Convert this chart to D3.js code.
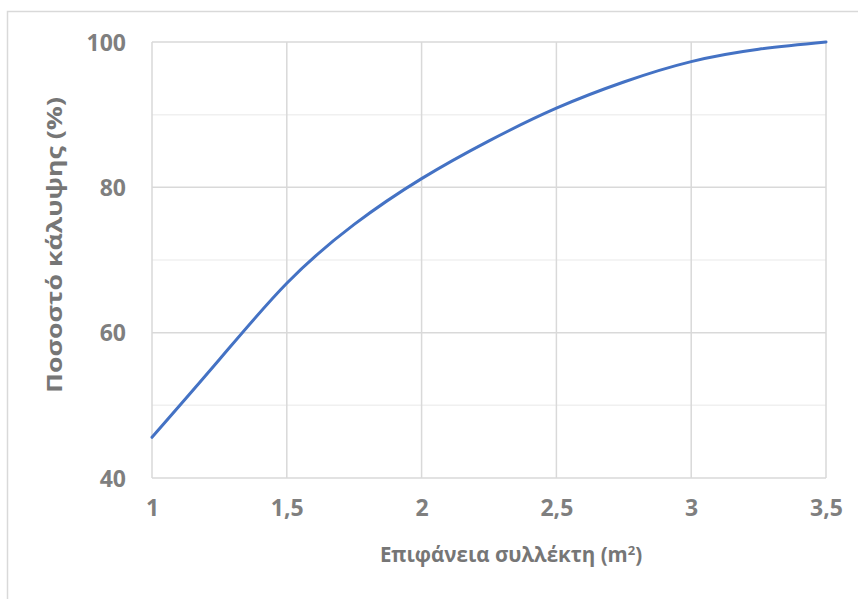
<!DOCTYPE html>
<html>
<head>
<meta charset="utf-8">
<script src="https://cdn.jsdelivr.net/npm/d3@7"></script>
<style>
html,body{margin:0;padding:0;background:#fff;}
svg{display:block;}
text{font-family:"Open Sans",sans-serif;font-weight:700;}
</style>
</head>
<body>
<svg id="chart" width="858" height="599"></svg>
<script>
// Data
const area = [1, 1.25, 1.5, 1.75, 2, 2.25, 2.5, 2.75, 3, 3.25, 3.5];
const coverage = [45.6, 56.3, 66.8, 74.9, 81.2, 86.4, 90.9, 94.5, 97.3, 99.0, 100];
const xTicks = [1, 1.5, 2, 2.5, 3, 3.5];
const xTickLabels = ["1", "1,5", "2", "2,5", "3", "3,5"];
const yMajorTicks = [40, 60, 80, 100];
const yMinorTicks = [50, 70, 90];
const xTitle = "Επιφάνεια συλλέκτη (m";
const xTitleSup = "2";
const yTitle = "Ποσοστό κάλυψης (%)";

(function () {
const svg = d3.select("#chart");
const W = 858, H = 599;
const mLeft = 152, mRight = 826, mTop = 42, mBottom = 478;

// outer chart border
svg.append("rect").attr("x", 7.5).attr("y", 11.5).attr("width", W + 20).attr("height", H + 20)
  .attr("fill", "#fff").attr("stroke", "#d9d9d9").attr("stroke-width", 1.5);

const x = d3.scaleLinear().domain([1, 3.5]).range([mLeft, mRight]);
const y = d3.scaleLinear().domain([40, 100]).range([mBottom, mTop]);

// minor gridlines
svg.append("g").selectAll("line").data(yMinorTicks).join("line")
  .attr("x1", mLeft).attr("x2", mRight)
  .attr("y1", d => y(d)).attr("y2", d => y(d))
  .attr("stroke", "#f0f0f0").attr("stroke-width", 1.5);

// major gridlines
svg.append("g").selectAll("line").data(yMajorTicks).join("line")
  .attr("x1", mLeft).attr("x2", mRight)
  .attr("y1", d => y(d)).attr("y2", d => y(d))
  .attr("stroke", "#d9d9d9").attr("stroke-width", 1.5);
svg.append("g").selectAll("line").data(xTicks).join("line")
  .attr("x1", d => x(d)).attr("x2", d => x(d))
  .attr("y1", mTop).attr("y2", mBottom)
  .attr("stroke", "#d9d9d9").attr("stroke-width", 1.5);

// axes via d3
const yAxis = d3.axisLeft(y).tickValues(yMajorTicks).tickSize(0).tickPadding(26);
const gy = svg.append("g").attr("transform", `translate(${mLeft},0)`).call(yAxis);
gy.select(".domain").remove();
gy.selectAll("text").attr("fill", "#7f7f7f").style("font-size", "23px").attr("dy", "0.35em")
  .style("font-family", "'Open Sans',sans-serif").style("font-weight", 700);

const xAxis = d3.axisBottom(x).tickValues(xTicks).tickSize(0).tickPadding(22)
  .tickFormat((d, i) => xTickLabels[i]);
const gx = svg.append("g").attr("transform", `translate(0,${mBottom})`).call(xAxis);
gx.select(".domain").remove();
gx.selectAll("text").attr("fill", "#7f7f7f").style("font-size", "23px")
  .style("font-family", "'Open Sans',sans-serif").style("font-weight", 700);

// line
const line = d3.line().x((d, i) => x(area[i])).y(d => y(d)).curve(d3.curveNatural);
svg.append("path").datum(coverage).attr("d", line)
  .attr("fill", "none").attr("stroke", "#4472c4").attr("stroke-width", 3)
  .attr("stroke-linecap", "round");

// axis titles
const xt = svg.append("text").attr("x", (mLeft + mRight) / 2 + 22).attr("y", 562)
  .attr("text-anchor", "middle").attr("fill", "#767676").style("font-size", "20.5px");
xt.append("tspan").text(xTitle);
xt.append("tspan").text(xTitleSup).attr("dy", -7).style("font-size", "13px");
xt.append("tspan").text(")").attr("dy", 7);

const yt = svg.append("text")
  .attr("text-anchor", "middle").attr("fill", "#767676").style("font-size", "20.5px")
  .text(yTitle);
const len = yt.node().getComputedTextLength();
const stretch = 296 / len;
yt.attr("transform", `translate(62,245) rotate(-90) scale(${stretch},1)`);
})();
</script>
</body>
</html>
